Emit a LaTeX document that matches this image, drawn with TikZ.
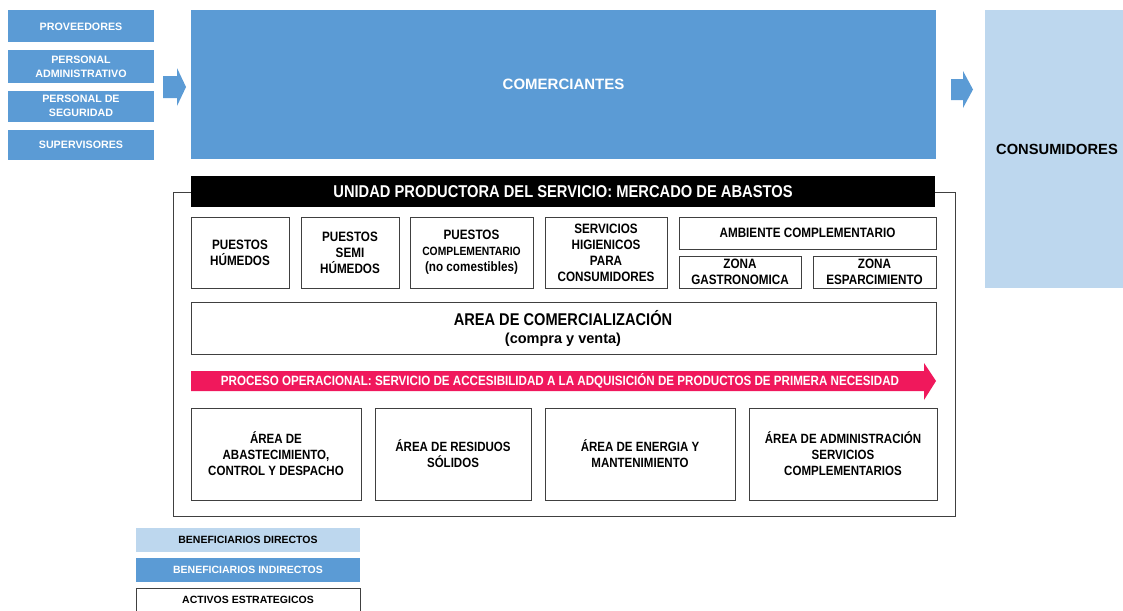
\documentclass[tikz,border=0pt]{standalone}
\usepackage{fontspec}
\setmainfont{Liberation Sans}
\newfontfamily\nar[FakeStretch=0.86]{Liberation Sans}
\usetikzlibrary{positioning}
\definecolor{midblue}{HTML}{5B9BD5}
\definecolor{lightblue}{HTML}{BDD7EE}
\definecolor{procpink}{HTML}{F0185C}
\definecolor{edgegray}{HTML}{404040}
\tikzset{
  bluebox/.style={fill=midblue, draw=none, text=white, font=\bfseries\fontsize{10.7}{13.8}\selectfont, align=center, inner sep=0pt},
  wbox/.style={draw=edgegray, line width=0.9pt, fill=white, text=black, align=center, inner sep=0pt},
  toptxt/.style={font=\nar\bfseries\fontsize{13.6}{16}\selectfont},
  bottxt/.style={font=\nar\bfseries\fontsize{13.4}{16}\selectfont},
  legbox/.style={inner sep=0pt, minimum width=224pt, minimum height=24pt, font=\bfseries\fontsize{10.5}{12}\selectfont},
  blockarrow/.style={fill=midblue, draw=none}
}
\begin{document}
\begin{tikzpicture}[x=1pt,y=-1pt]
\useasboundingbox (0,0) rectangle (1123,610);
% left boxes
\node[bluebox, minimum width=146pt, minimum height=32pt] (prov) at (81,26.5) {PROVEEDORES};
\node[bluebox, minimum width=146pt, minimum height=32pt] (padm) at (81,66.5) {PERSONAL\\ADMINISTRATIVO};
\node[bluebox, minimum width=146pt, minimum height=31pt] (pseg) at (81,106) {PERSONAL DE\\SEGURIDAD};
\node[bluebox, minimum width=146pt, minimum height=30pt] (sup) at (81,144.5) {SUPERVISORES};
% left arrow
\fill[blockarrow] (163,76) -- (177,76) -- (177,68) -- (186,87) -- (177,106) -- (177,98) -- (163,98) -- cycle;
% comerciantes
\node[fill=midblue, text=white, minimum width=745pt, minimum height=149pt, inner sep=0pt, font=\bfseries\fontsize{15}{17}\selectfont] (com) at (563.5,84.5) {COMERCIANTES};
% right arrow
\fill[blockarrow] (951,79) -- (963,79) -- (963,71) -- (973,89.5) -- (963,108) -- (963,100) -- (951,100) -- cycle;
% consumidores
\node[fill=lightblue, minimum width=140pt, minimum height=278pt, inner sep=0pt] (cons) at (1055,149) {};
\node[font=\bfseries\fontsize{14.7}{17}\selectfont, inner sep=0pt] (constxt) at (1057,149) {CONSUMIDORES};
% outer frame
\draw[edgegray, line width=0.7pt] (173,192) rectangle (955,516);
\node[fill=black, text=white, minimum width=744pt, minimum height=31pt, inner sep=0pt, font=\nar\bfseries\fontsize{17.1}{19}\selectfont] (hdr) at (563,191.5) {UNIDAD PRODUCTORA DEL SERVICIO: MERCADO DE ABASTOS};
% top row
\node[wbox, toptxt, minimum width=98pt, minimum height=71pt] (ph) at (240,252.5) {PUESTOS\\HÚMEDOS};
\node[wbox, toptxt, minimum width=98pt, minimum height=71pt] (psh) at (350,252.5) {PUESTOS\\SEMI\\HÚMEDOS};
\node[wbox, toptxt, minimum width=123pt, minimum height=71pt] (pc) at (471.5,252.5) {PUESTOS\\{\fontsize{12}{16}\selectfont COMPLEMENTARIO}\\(no comestibles)};
\node[wbox, toptxt, minimum width=122pt, minimum height=71pt] (sh) at (606,252.5) {SERVICIOS\\HIGIENICOS\\PARA\\CONSUMIDORES};
\node[wbox, toptxt, minimum width=257pt, minimum height=32pt] (ac) at (807.5,233) {AMBIENTE COMPLEMENTARIO};
\node[wbox, toptxt, minimum width=122pt, minimum height=32pt] (zg) at (740,272) {ZONA\\GASTRONOMICA};
\node[wbox, toptxt, minimum width=123pt, minimum height=32pt] (ze) at (874.5,272) {ZONA\\ESPARCIMIENTO};
% comercializacion
\node[wbox, minimum width=745pt, minimum height=52pt] (acom) at (563.5,328) {};
\node[font=\nar\bfseries\fontsize{17}{19}\selectfont, inner sep=0pt] (acomt) at (563,318.5) {AREA DE COMERCIALIZACIÓN};
\node[font=\bfseries\fontsize{14.5}{16}\selectfont, inner sep=0pt] (acoms) at (563,339.5) {(compra y venta)};
% process arrow
\fill[procpink] (191,371) -- (924,371) -- (924,363) -- (936,381) -- (924,400) -- (924,391) -- (191,391) -- cycle;
\node[text=white, font=\nar\bfseries\fontsize{13.5}{15}\selectfont, inner sep=0pt] (proc) at (560,381) {PROCESO OPERACIONAL: SERVICIO DE ACCESIBILIDAD A LA ADQUISICIÓN DE PRODUCTOS DE PRIMERA NECESIDAD};
% bottom row
\node[wbox, bottxt, minimum width=170pt, minimum height=92pt] (aa) at (276,454) {ÁREA DE\\ABASTECIMIENTO,\\CONTROL Y DESPACHO};
\node[wbox, bottxt, minimum width=156pt, minimum height=92pt] (ar) at (453,454) {ÁREA DE RESIDUOS\\SÓLIDOS};
\node[wbox, bottxt, minimum width=190pt, minimum height=92pt] (ae) at (640,454) {ÁREA DE ENERGIA Y\\MANTENIMIENTO};
\node[wbox, bottxt, minimum width=188pt, minimum height=92pt] (aad) at (843,454) {ÁREA DE ADMINISTRACIÓN\\SERVICIOS\\COMPLEMENTARIOS};
% legend
\node[legbox, fill=lightblue, text=black] (bd) at (248,540) {BENEFICIARIOS DIRECTOS};
\node[legbox, fill=midblue, text=white] (bi) at (248,570) {BENEFICIARIOS INDIRECTOS};
\node[legbox, draw=edgegray, line width=0.9pt, fill=white, text=black, anchor=north, minimum height=30pt] (ae2) at (248,588) {};
\node[font=\bfseries\fontsize{10.5}{12}\selectfont, inner sep=0pt] (aet) at (248,600) {ACTIVOS ESTRATEGICOS};
\end{tikzpicture}
\end{document}
